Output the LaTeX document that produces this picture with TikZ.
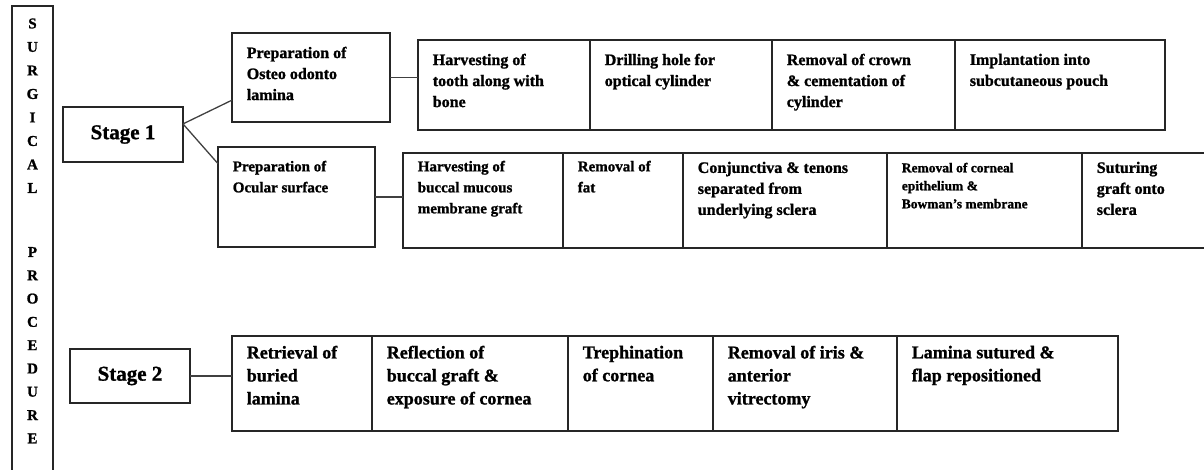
\documentclass[tikz,border=0pt]{standalone}
\usepackage{fontspec}
\setmainfont{Liberation Serif}[BoldFeatures={FakeBold=1.2}]
\usetikzlibrary{arrows}

\newcommand{\cellfont}{\fontsize{16}{21}\selectfont}
\newcommand{\bigcellfont}{\fontsize{18}{23}\selectfont}
\newcommand{\midcellfont}{\fontsize{15}{21}\selectfont}
\newcommand{\smallcellfont}{\fontsize{13.5}{18}\selectfont}
\newcommand{\stagefont}{\fontsize{21}{22}\selectfont}
\newcommand{\barfont}{\fontsize{15}{15}\selectfont}

\begin{document}
\begin{tikzpicture}[
            x = 1pt, y = -1pt, % one unit per pixel, y runs down
            line width = 1.6pt, % line style
            every node/.style = {font = \bfseries}
        ]

        \tikzstyle{box}=[
            draw = black!85,
            anchor = north west,
            inner sep = 0pt,
            outer sep = 0pt
        ]
        \tikzstyle{txt}=[
            anchor = north west,
            align = left,
            inner sep = 0pt,
            xshift = 14pt,
            yshift = -13pt
        ]
        \tikzstyle{link}=[draw = black!75, line width = 1.3pt]

        \useasboundingbox (0,0) rectangle (1204,470);
        \clip (0,0) rectangle (1204,470);

        % side bar
        \node[box, minimum width=41pt, minimum height=480pt] (bar) at (12,6) {};
        \foreach \ch [count=\i] in {S,U,R,G,I,C,A,L}
            \node[font=\bfseries\barfont] (sg\i) at (32.5, 23.5*\i) {\ch};
        \foreach \ch [count=\i] in {P,R,O,C,E,D,U,R,E}
            \node[font=\bfseries\barfont] (pr\i) at (32.5, 228.7+23.3*\i) {\ch};

        % stages
        \node[box, minimum width=120pt, minimum height=55pt, font=\bfseries\stagefont] (s1) at (63,107) {Stage 1};
        \node[box, minimum width=120pt, minimum height=54pt, font=\bfseries\stagefont] (s2) at (70,349) {Stage 2};

        % stage 1, first branch
        \node[box, minimum width=158pt, minimum height=89pt] (p1) at (232,33) {};
        \node[txt, font=\bfseries\cellfont] (tp1) at (p1.north west) {Preparation of\\Osteo odonto\\lamina};

        \node[box, minimum width=172pt, minimum height=90pt] (r1a) at (418,40) {};
        \node[box, minimum width=182pt, minimum height=90pt] (r1b) at (590,40) {};
        \node[box, minimum width=183pt, minimum height=90pt] (r1c) at (772,40) {};
        \node[box, minimum width=210pt, minimum height=90pt] (r1d) at (955,40) {};
        \node[txt, font=\bfseries\cellfont] (t1a) at (r1a.north west) {Harvesting of\\tooth along with\\bone};
        \node[txt, font=\bfseries\cellfont] (t1b) at (r1b.north west) {Drilling hole for\\optical cylinder};
        \node[txt, font=\bfseries\cellfont] (t1c) at (r1c.north west) {Removal of crown\\\& cementation of\\cylinder};
        \node[txt, font=\bfseries\cellfont] (t1d) at (r1d.north west) {Implantation into\\subcutaneous pouch};

        % stage 1, second branch
        \node[box, minimum width=157pt, minimum height=100pt] (p2) at (218,147) {};
        \node[txt, font=\bfseries\midcellfont] (tp2) at (p2.north west) {Preparation of\\Ocular surface};

        \node[box, minimum width=160pt, minimum height=95pt] (r2a) at (403,153) {};
        \node[box, minimum width=120pt, minimum height=95pt] (r2b) at (563,153) {};
        \node[box, minimum width=204pt, minimum height=95pt] (r2c) at (683,153) {};
        \node[box, minimum width=195pt, minimum height=95pt] (r2d) at (887,153) {};
        \node[box, minimum width=140pt, minimum height=95pt] (r2e) at (1082,153) {};
        \node[txt, font=\bfseries\midcellfont, yshift=6pt] (t2a) at (r2a.north west) {Harvesting of\\buccal mucous\\membrane graft};
        \node[txt, font=\bfseries\midcellfont, yshift=6pt] (t2b) at (r2b.north west) {Removal of\\fat};
        \node[txt, font=\bfseries\cellfont, yshift=5pt] (t2c) at (r2c.north west) {Conjunctiva \& tenons\\separated from\\underlying sclera};
        \node[txt, font=\bfseries\smallcellfont, yshift=4pt] (t2d) at (r2d.north west) {Removal of corneal\\epithelium \&\\Bowman's membrane};
        \node[txt, font=\bfseries\cellfont, yshift=5pt] (t2e) at (r2e.north west) {Suturing\\graft onto\\sclera};

        % stage 2
        \node[box, minimum width=140pt, minimum height=95pt] (r3a) at (232,336) {};
        \node[box, minimum width=196pt, minimum height=95pt] (r3b) at (372,336) {};
        \node[box, minimum width=145pt, minimum height=95pt] (r3c) at (568,336) {};
        \node[box, minimum width=184pt, minimum height=95pt] (r3d) at (713,336) {};
        \node[box, minimum width=221pt, minimum height=95pt] (r3e) at (897,336) {};
        \node[txt, font=\bfseries\bigcellfont, yshift=4pt] (t3a) at (r3a.north west) {Retrieval of\\buried\\lamina};
        \node[txt, font=\bfseries\bigcellfont, yshift=4pt] (t3b) at (r3b.north west) {Reflection of\\buccal graft \&\\exposure of cornea};
        \node[txt, font=\bfseries\bigcellfont, yshift=4pt] (t3c) at (r3c.north west) {Trephination\\of cornea};
        \node[txt, font=\bfseries\bigcellfont, yshift=4pt] (t3d) at (r3d.north west) {Removal of iris \&\\anterior\\vitrectomy};
        \node[txt, font=\bfseries\bigcellfont, yshift=4pt] (t3e) at (r3e.north west) {Lamina sutured \&\\flap repositioned};

        % connectors
        \path[link] (s1.10) edge (p1.196);
        \path[link] (s1.10) edge (p2.157);
        \path[link] (p1.east) edge (p1.east -| r1a.west);
        \path[link] (p2.east) edge (p2.east -| r2a.west);
        \path[link] (s2.east) edge (s2.east -| r3a.west);
    \end{tikzpicture}
\end{document}
